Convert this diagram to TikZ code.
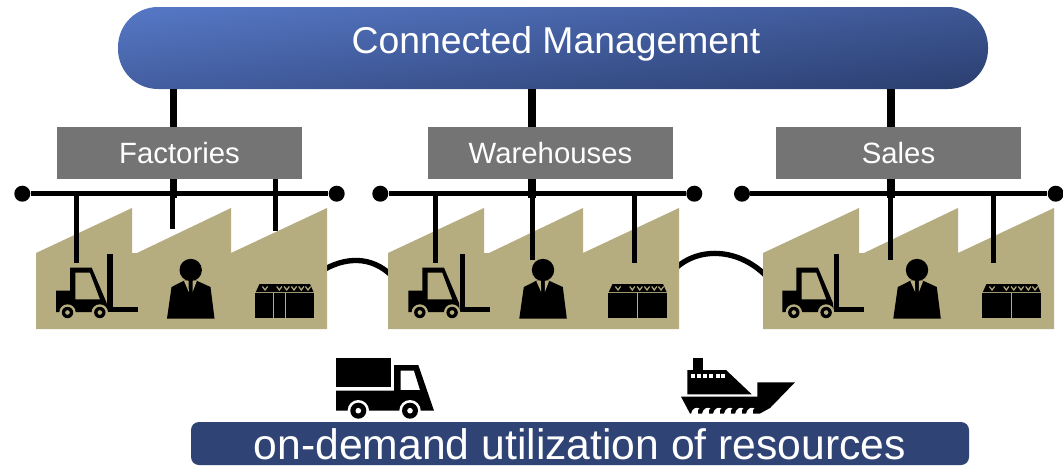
\documentclass[tikz,border=0pt]{standalone}
\usepackage{fontspec}
\setmainfont{Liberation Sans}
\definecolor{shedtan}{RGB}{181,172,128}
\definecolor{barblue}{RGB}{47,67,117}
\definecolor{pilllight}{RGB}{84,117,194}
\definecolor{pilldark}{RGB}{45,65,115}
\definecolor{boxgray}{RGB}{116,116,116}
\newcommand{\sitetext}[1]{\raisebox{-7.8pt}[0pt][0pt]{#1}}
\tikzset{
  trunk/.style={line width=5.6pt,black},
  drop/.style={line width=3.75pt,black},
  busline/.style={line width=3.75pt,black},
  link/.style={line width=4pt,black},
  busdot/.style={circle,fill=black,inner sep=0pt,minimum size=12pt},
  sitebox/.style={fill=boxgray,text=white,minimum width=183.75pt,minimum height=39pt,inner sep=0pt,font=\fontsize{22}{26}\selectfont},
  pics/shed/.style={code={
    \fill[shedtan] (36,329) -- (36,253) -- (132,208) -- (132,253) -- (137,253) -- (231,208) -- (231,253) -- (327,208) -- (327,329) -- cycle;
  }},
  pics/forklift/.style={code={
    \fill[even odd rule] (56,290.7) -- (70,290.7) -- (70,267.7) -- (91.7,267.7) -- (106.7,303) -- (107.5,312) -- (56,312) -- cycle
      (75.3,272.7) -- (90,272.7) -- (100,299.3) -- (75.3,299.3) -- cycle;
    \fill (107.3,254) rectangle (112.7,307);
    \fill (107.3,306.7) rectangle (138,312);
    \foreach \wx in {67.5,99.8}{
      \fill[shedtan] (\wx,312.5) circle[radius=8.2];
      \fill (\wx,312.5) circle[radius=5.7];
      \fill[shedtan] (\wx,312.5) circle[radius=2.3];
    }
  }},
  pics/worker/.style={code={
    \fill (190.7,270) circle[radius=11.2];
    \fill (167,318.5) -- (171.5,287) -- (184,280.7) -- (196.7,280.7) -- (210.5,287) -- (214.5,318.5) -- cycle;
    \fill[shedtan] (183.8,280.5) -- (188.6,280.8) -- (188.8,292) -- cycle;
    \fill[shedtan] (197,280.5) -- (192.6,280.8) -- (192.6,292) -- cycle;
  }},
  pics/crate/.style={code={
    \fill (255,293.3) rectangle (313.5,318);
    \fill (255.8,292) -- (259.5,284) -- (310,284) -- (313.5,292) -- cycle;
    \foreach \cx in {265,279.3,286.7,294,301.3,308}{
      \draw[shedtan,line width=.9pt] (\cx-2.6,286.5) -- (\cx,290) -- (\cx+2.6,286.5);
    }
    \foreach \dv in {#1}{
      \fill[shedtan] (255+\dv-.4,293.3) rectangle (255+\dv+.4,318);
    }
  }},
}
\begin{document}
\begin{tikzpicture}[x=.75pt,y=-.75pt]
\useasboundingbox (0,0) rectangle (1063,465);
\fill[white] (0,0) rectangle (1063,465);

% curved links between the sites (behind the sheds)
\coordinate (l1a) at (320,272);
\coordinate (l1b) at (392,276);
\coordinate (l2a) at (672,272);
\coordinate (l2b) at (770,280);
\draw[link] (l1a) .. controls (345,256) and (372,256) .. (l1b);
\draw[link] (l2a) .. controls (695,246) and (740,246) .. (l2b);

% sheds and icons
\pic at (0,0) {shed};
\pic at (352,0) {shed};
\pic at (727,0) {shed};
\pic at (0,0) {forklift};
\pic at (352.3,0) {forklift};
\pic at (726.3,0) {forklift};
\pic at (0,0) {worker};
\pic at (352.3,0) {worker};
\pic at (726.3,0) {worker};
\pic at (0,0) {crate={18.3,30.3}};
\pic at (353,0) {crate={29.7}};
\pic at (727,0) {crate={29.7}};

% header nodes
\node[shade,top color=pilllight,bottom color=pilldark,shading angle=7,rounded corners=30pt,
      minimum width=652.5pt,minimum height=61.5pt,inner sep=0pt,text=white,
      font=\fontsize{28}{32}\selectfont] (mgmt) at (553,48)
      {\hspace*{4.5pt}\raisebox{-4pt}[0pt][0pt]{Connected Management}};

% bus ends
\node[busdot] (a1) at (22.3,193.7) {};
\node[busdot] (a2) at (336.7,193.7) {};
\node[busdot] (b1) at (380.3,193.7) {};
\node[busdot] (b2) at (694.3,193.7) {};
\node[busdot] (c1) at (742,193.7) {};
\node[busdot] (c2) at (1055.7,193.7) {};
\draw[busline] (a1) -- (a2);
\draw[busline] (b1) -- (b2);
\draw[busline] (c1) -- (c2);

% trunks from the header down to each bus
\coordinate (ta) at (173.5,198);
\coordinate (tb) at (532,198);
\coordinate (tc) at (891,198);
\draw[trunk] (ta |- mgmt.south) -- (ta);
\draw[trunk] (tb |- mgmt.south) -- (tb);
\draw[trunk] (tc |- mgmt.south) -- (tc);

% drops from each bus
\coordinate (da1) at (76.7,262.7);
\coordinate (da2) at (172.6,228.7);
\coordinate (da3) at (275.3,231);
\coordinate (db1) at (435.3,262.7);
\coordinate (db2) at (532,260);
\coordinate (db3) at (634.7,262.7);
\coordinate (dc2) at (890.7,260);
\coordinate (dc3) at (993.3,262.7);
\draw[drop] (da1 |- a1) -- (da1);
\draw[drop] (da2 |- a1) -- (da2);
\draw[drop] (da3 |- 0,179) -- (da3);
\draw[drop] (db1 |- b1) -- (db1);
\draw[drop] (db2 |- b1) -- (db2);
\draw[drop] (db3 |- b1) -- (db3);
\draw[drop] (dc2 |- c1) -- (dc2);
\draw[drop] (dc3 |- c1) -- (dc3);

% site labels
\node[sitebox] (factories) at (179.5,153) {\sitetext{Factories}};
\node[sitebox] (warehouses) at (550.5,153) {\sitetext{Warehouses}};
\node[sitebox] (sales) at (898.5,153) {\sitetext{Sales}};

% truck
\fill (336,358) rectangle (391,386.7);
\fill[even odd rule] (336,390.7) -- (394,390.7) -- (394,365) -- (418.3,365) -- (434,410.7) -- (336,410.7) -- cycle
  (400.7,370.7) -- (414,370.7) -- (420,390) -- (400.7,390) -- cycle;
\foreach \tx in {358.3,410}{
  \fill[white] (\tx,410.7) circle[radius=10.7];
  \fill (\tx,410.7) circle[radius=8];
  \fill[white] (\tx,410.7) circle[radius=2.8];
}

% ship
\fill (693.3,358.3) rectangle (703.3,371);
\fill (687.3,370) -- (726,370) -- (751.7,394.3) -- (687.3,394.3) -- cycle;
\foreach \wn in {690.5,696.7,703,709.3,715.6,721}{
  \fill[white] (\wn,373.5) rectangle (\wn+4,378);
}
\fill (681,396.7) -- (757.3,396.7) -- (757.3,382.3) -- (795,382.3) -- (770,408) -- (760,413.5) -- (690,413.5) -- cycle;
\foreach \sx in {691,702,713,724,735,746}{
  \fill[white] (\sx,414) .. controls (\sx+1,408.5) and (\sx+5,406.5) .. (\sx+8.5,408.5)
     .. controls (\sx+6.5,409.5) .. (\sx+7,414) -- cycle;
}

% bottom bar
\node[fill=barblue,text=white,rounded corners=6pt,minimum width=583.5pt,minimum height=32.25pt,inner sep=0pt,
      font=\fontsize{32}{38}\selectfont] (bar) at (580,443.5) {\raisebox{-12.2pt}[0pt][0pt]{on-demand utilization of resources}};
\end{tikzpicture}
\end{document}
